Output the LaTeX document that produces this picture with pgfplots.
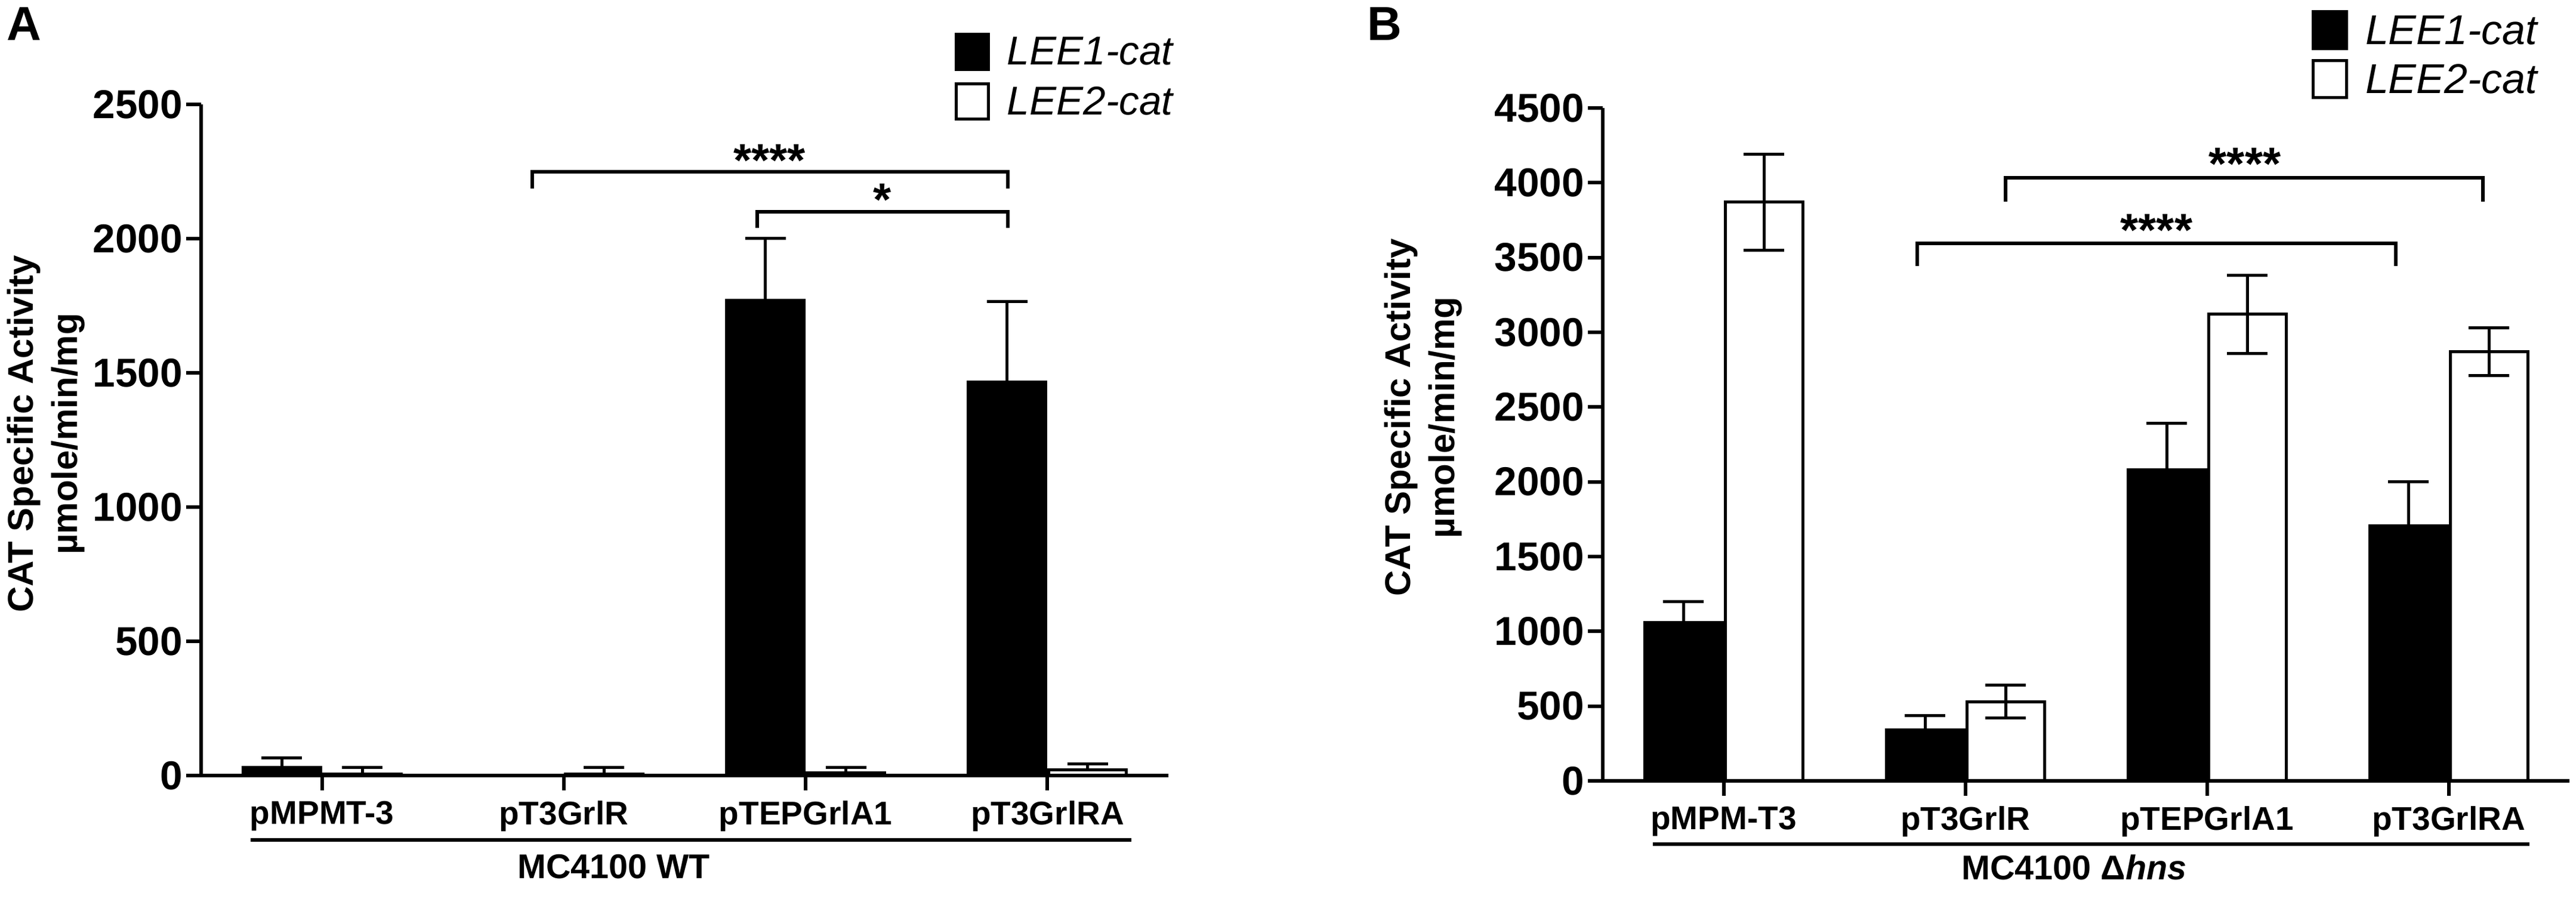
\documentclass[border=0pt]{standalone}
\usepackage{pgfplots}
\pgfplotsset{compat=1.18}
\usepackage{fontspec}
\setmainfont{Liberation Sans}
\begin{document}
\begin{tikzpicture}
\useasboundingbox (0,0) rectangle (863.4pt,301.4pt);
\pgfplotsset{
  mybars/.style={
    scale only axis,
    anchor=south west,
    ybar=1pt,
    bar width=26pt,
    xmin=-0.5, xmax=3.5,
    ymin=0,
    xtick={0,1,2,3},
    axis x line=bottom, axis y line=left,
    axis line style={line width=1.2pt, -},
    tick align=outside,
    major tick length=5pt,
    tick style={line width=1.2pt, black},
    /pgf/number format/assume math mode=true,
    /pgf/number format/1000 sep={},
    yticklabel style={font=\bfseries\fontsize{13.5}{16}\selectfont, inner xsep=1pt},
    xticklabel style={font=\bfseries\fontsize{11}{13}\selectfont},
    ylabel style={align=center, font=\bfseries\fontsize{12}{14.8}\selectfont, anchor=center},
    clip=false,
    legend cell align=left,
    legend style={draw=none, fill=none, inner sep=0pt, anchor=north west,
      nodes={inner sep=0pt}, column sep=5.8pt},
  },
  blk/.style={fill=black, draw=black, line width=1pt,
    error bars/.cd, y dir=#1, y explicit,
    error bar style={line width=1pt, black},
    error mark options={rotate=90, mark size=6.8pt, line width=1pt, black}},
  wht/.style={fill=white, draw=black, line width=1pt,
    error bars/.cd, y dir=#1, y explicit,
    error bar style={line width=1pt, black},
    error mark options={rotate=90, mark size=6.8pt, line width=1pt, black}},
}
% ---------------- Panel A ----------------
\begin{axis}[mybars,
  at={(67.4pt,41.4pt)}, width=324.2pt, height=225pt,
  ymax=2500, ytick={0,500,1000,1500,2000,2500},
  xticklabels={pMPMT-3,pT3GrlR,pTEPGrlA1,pT3GrlRA},
  ylabel={CAT Specific Activity\\µmole/min/mg},
  ylabel style={at={(axis description cs:-0.1604,0.509)}},
  legend image code/.code={\draw[#1, line width=1pt] (0.5pt,-5.4pt) rectangle (11.3pt,6.4pt);},
  legend style={at={(0.7785,1.1076)}, row sep=3.8pt, font=\itshape\fontsize{13.5}{16}\selectfont},
]
\addplot[blk=plus] coordinates {(0,30) +- (0,35) (1,0) +- (0,0) (2,1770) +- (0,230) (3,1465) +- (0,300)};
\addplot[wht=plus] coordinates {(0,6) +- (0,25) (1,5) +- (0,26) (2,10) +- (0,20) (3,22) +- (0,21)};
\legend{LEE1-cat, LEE2-cat}
\draw[line width=1.2pt] (axis cs:0.87,2187) -- (axis cs:0.87,2249) -- (axis cs:2.837,2249) -- (axis cs:2.837,2187);
\draw[line width=1.2pt] (axis cs:1.80,2040) -- (axis cs:1.80,2100) -- (axis cs:2.837,2100) -- (axis cs:2.837,2040);
\node[font=\bfseries\fontsize{15.5}{16}\selectfont, inner sep=0pt] at (axis cs:1.85,2291) {****};
\node[font=\bfseries\fontsize{15.5}{16}\selectfont, inner sep=0pt] at (axis cs:2.316,2144) {*};
\draw[line width=1.2pt] (axis cs:-0.294,-240) -- (axis cs:3.346,-240);
\node[font=\bfseries\fontsize{11.5}{13}\selectfont, inner sep=0pt] at (axis cs:1.207,-340) {MC4100 WT};
\end{axis}
% ---------------- Panel B ----------------
\begin{axis}[mybars,
  at={(537.2pt,39.6pt)}, width=324pt, height=225.6pt,
  ymax=4500, ytick={0,500,1000,1500,2000,2500,3000,3500,4000,4500},
  xticklabels={pMPM-T3,pT3GrlR,pTEPGrlA1,pT3GrlRA},
  ylabel={CAT Specific Activity\\µmole/min/mg},
  ylabel style={at={(axis description cs:-0.186,0.54)}},
  legend image code/.code={\draw[#1, line width=1pt] (0.5pt,-5.55pt) rectangle (11.7pt,6.85pt);},
  legend style={at={(0.7327,1.1463)}, row sep=3.1pt, font=\itshape\fontsize{14}{16}\selectfont},
]
\addplot[blk=both] coordinates {(0,1060) +- (0,140) (1,340) +- (0,95) (2,2080) +- (0,310) (3,1705) +- (0,295)};
\addplot[wht=both] coordinates {(0,3870) +- (0,320) (1,530) +- (0,110) (2,3120) +- (0,260) (3,2870) +- (0,160)};
\legend{LEE1-cat, LEE2-cat}
\draw[line width=1.2pt] (axis cs:1.167,3873) -- (axis cs:1.167,4034) -- (axis cs:3.143,4034) -- (axis cs:3.143,3873);
\draw[line width=1.2pt] (axis cs:0.801,3443) -- (axis cs:0.801,3595) -- (axis cs:2.781,3595) -- (axis cs:2.781,3443);
\node[font=\bfseries\fontsize{15.5}{16}\selectfont, inner sep=0pt] at (axis cs:2.157,4125) {****};
\node[font=\bfseries\fontsize{15.5}{16}\selectfont, inner sep=0pt] at (axis cs:1.791,3682) {****};
\draw[line width=1.2pt] (axis cs:-0.292,-423) -- (axis cs:3.334,-423);
\node[font=\bfseries\fontsize{11.5}{13}\selectfont, inner sep=0pt] at (axis cs:1.45,-578) {MC4100 Δ\textit{hns}};
\end{axis}
\node[anchor=north west, inner sep=0pt, font=\bfseries\fontsize{16}{16}\selectfont] at (2.2pt,299.2pt) {A};
\node[anchor=north west, inner sep=0pt, font=\bfseries\fontsize{16}{16}\selectfont] at (458pt,299.2pt) {B};
\end{tikzpicture}
\end{document}
